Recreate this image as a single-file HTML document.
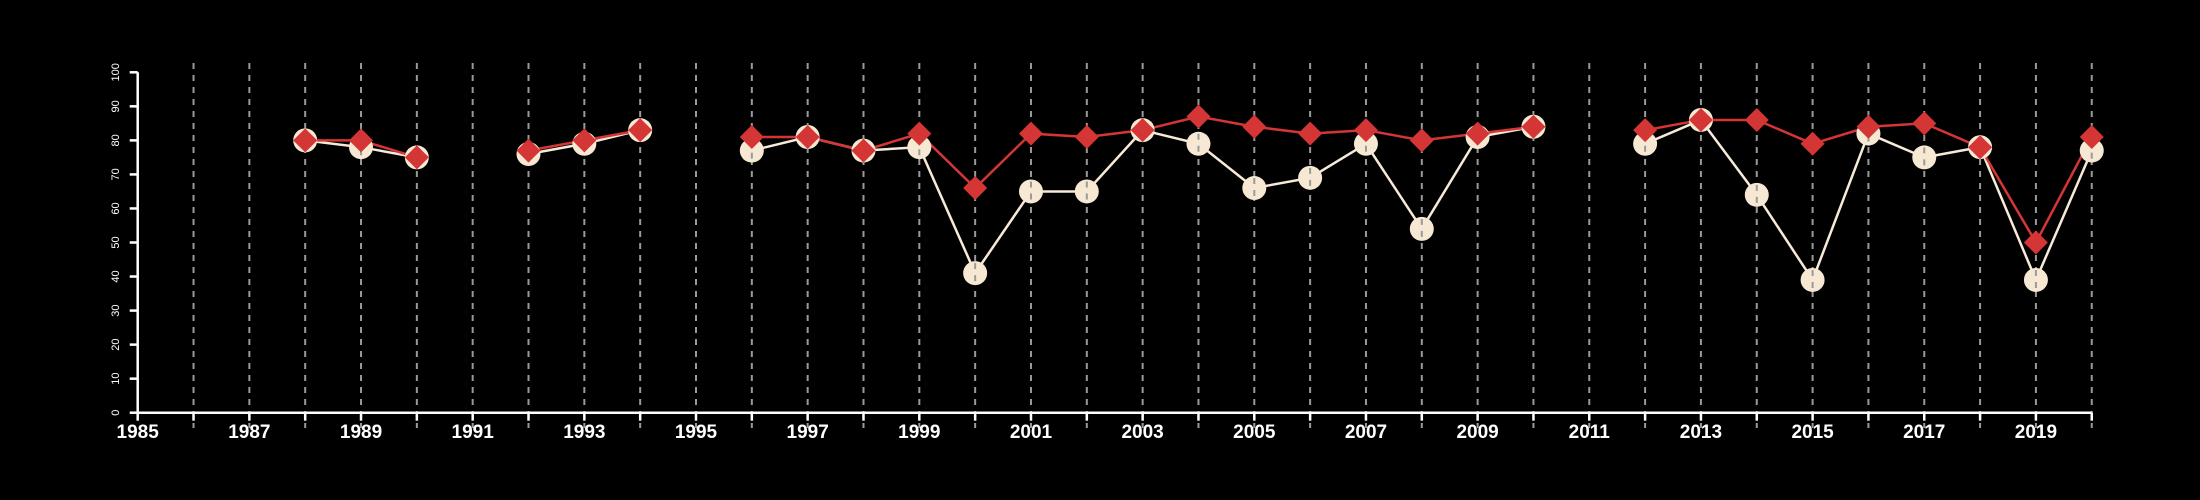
<!DOCTYPE html>
<html><head><meta charset="utf-8"><style>
html,body{margin:0;padding:0;background:#000;}
svg{display:block;font-family:"Liberation Sans",sans-serif;}
</style></head><body>
<svg id="chart" width="2200" height="500" viewBox="0 0 2200 500" xmlns="http://www.w3.org/2000/svg">
<rect width="2200" height="500" fill="#000"/>
<g id="grid"></g><g id="axes"></g><g id="series"></g>
</svg>
<script>
const years = [1988,1989,1990,1991,1992,1993,1994,1995,1996,1997,1998,1999,2000,2001,2002,2003,2004,2005,2006,2007,2008,2009,2010,2011,2012,2013,2014,2015,2016,2017,2018,2019,2020];
const whiteSeries = [80,78,75,null,76,79,83,null,77,81,77,78,41,65,65,83,79,66,69,79,54,81,84,null,79,86,64,39,82,75,78,39,77];
const redSeries = [80,80,75,null,77,80,83,null,81,81,77,82,66,82,81,83,87,84,82,83,80,82,84,null,83,86,86,79,84,85,78,50,81];
const yTicks = [0,10,20,30,40,50,60,70,80,90,100];
const xLabelYears = [1985,1987,1989,1991,1993,1995,1997,1999,2001,2003,2005,2007,2009,2011,2013,2015,2017,2019];

const NS="http://www.w3.org/2000/svg";
const X0=137.7, PX=55.83, Y0=412.7, PY=3.404;
const xs=y=>X0+(y-1985)*PX;
const ys=v=>Y0-v*PY;
function mk(tag,attrs,parent){const e=document.createElementNS(NS,tag);for(const k in attrs)e.setAttribute(k,attrs[k]);parent.appendChild(e);return e;}
const grid=document.getElementById('grid'),axes=document.getElementById('axes'),ser=document.getElementById('series');

for(let yr=1986;yr<=2020;yr++){
  const l=mk('line',{x1:xs(yr),x2:xs(yr),y1:63,y2:428,stroke:'#9a9a9a','stroke-width':2,'stroke-dasharray':'6,6'},grid);
  
  
}
const xa=mk('line',{x1:xs(1985),x2:xs(2020),y1:Y0,y2:Y0,stroke:'#fff','stroke-width':2.5},axes);


const ya=mk('line',{x1:X0,x2:X0,y1:ys(100),y2:Y0,stroke:'#fff','stroke-width':2.5},axes);


for(let yr=1985;yr<=2020;yr++){
  const t=mk('line',{x1:xs(yr),x2:xs(yr),y1:Y0,y2:Y0+8,stroke:'#fff','stroke-width':2.5},axes);
  
  
}
xLabelYears.forEach(yr=>{
  const t=mk('text',{x:xs(yr),y:438,fill:'#fff','font-size':19,'font-weight':'bold','text-anchor':'middle'},axes);
  t.textContent=yr;
  
  
});
yTicks.forEach(v=>{
  const t=mk('line',{x1:X0-8,x2:X0,y1:ys(v),y2:ys(v),stroke:'#fff','stroke-width':2.5},axes);
  
  
  const tx=mk('text',{x:0,y:0,fill:'#fff','font-size':11,'text-anchor':'middle',transform:`translate(119,${ys(v)}) rotate(-90)`},axes);
  tx.textContent=v;
  
  
});
function drawLine(vals,color,name){
  let seg=[];
  const flush=()=>{if(seg.length>1){const p=mk('polyline',{points:seg.join(' '),fill:'none',stroke:color,'stroke-width':2.5},ser);}seg=[];};
  vals.forEach((v,i)=>{if(v==null)flush();else seg.push(xs(years[i])+','+ys(v));});
  flush();
}
drawLine(whiteSeries,'#f7ead8','white-series');
drawLine(redSeries,'#d43535','red-series');
whiteSeries.forEach((v,i)=>{if(v==null)return;
  const c=mk('circle',{cx:xs(years[i]),cy:ys(v),r:12,fill:'#f7e8d4'},ser);
  
  
  const d=mk('line',{x1:xs(years[i]),x2:xs(years[i]),y1:ys(v)-10,y2:ys(v)+10,stroke:'#9a9a9a','stroke-width':2,'stroke-dasharray':'6,6'},ser);
  
  
});
redSeries.forEach((v,i)=>{if(v==null)return;
  const x=xs(years[i]),y=ys(v),s=12;
  const p=mk('polygon',{points:`${x},${y-s} ${x+s},${y} ${x},${y+s} ${x-s},${y}`,fill:'#d43535'},ser);
  
  
});
</script>
</body></html>
